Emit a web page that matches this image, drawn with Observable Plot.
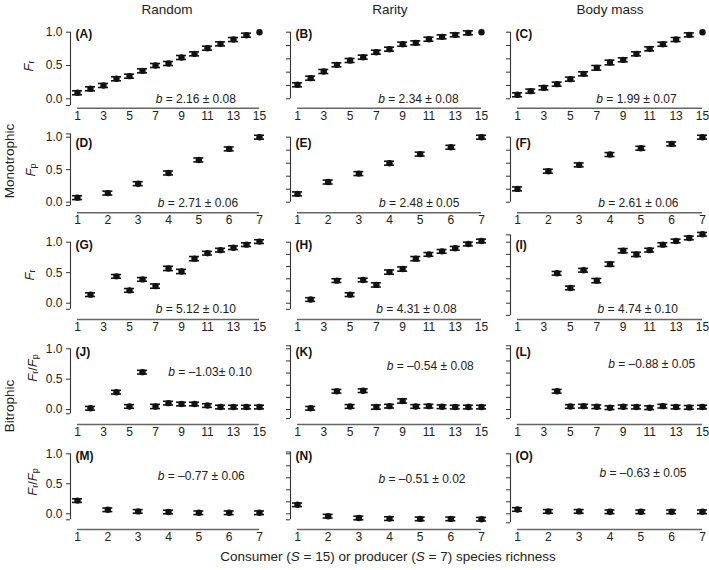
<!DOCTYPE html>
<html><head><meta charset="utf-8">
<script src="https://cdn.jsdelivr.net/npm/d3@7"></script>
<script src="https://cdn.jsdelivr.net/npm/@observablehq/plot@0.6"></script>
<style>
body{margin:0;background:#fff;}
#chart{position:relative;width:709px;height:570px;font-family:"Liberation Sans",Arial,sans-serif;color:#222;overflow:hidden;}
#overlay{position:absolute;left:0;top:0;pointer-events:none;}
</style></head><body><div id="chart"></div>
<script>
// ---------- data ----------
const colHeaders = ["Random", "Rarity", "Body mass"];
const groupLabels = ["Monotrophic", "Bitrophic"];
const xTitle = "Consumer (S = 15) or producer (S = 7) species richness";

const xConsumer = [1,2,3,4,5,6,7,8,9,10,11,12,13,14,15];
const xProducer = [1,2,3,4,5,6,7];
const xFrom2 = [2,4,5,6,7,8,9,10,11,12,13,14,15];
const xFrom4 = [4,5,6,7,8,9,10,11,12,13,14,15];

const consumerTicks = [1,3,5,7,9,11,13,15];
const producerTicks = [1,2,3,4,5,6,7];
const yLabelTicks = [0, 0.5, 1];
const yPlainTicks = [0, 0.2, 0.4, 0.6, 0.8, 1];

const letters = ["A","B","C","D","E","F","G","H","I","J","K","L","M","N","O"];

const valA = [0.09,0.15,0.20,0.30,0.34,0.42,0.50,0.53,0.62,0.675,0.76,0.825,0.89,0.955,1.0];
const valB = [0.21,0.31,0.41,0.51,0.575,0.625,0.70,0.745,0.82,0.84,0.895,0.93,0.96,0.99,1.0];
const valC = [0.06,0.115,0.165,0.22,0.295,0.375,0.465,0.545,0.585,0.675,0.75,0.82,0.89,0.96,1.0];
const valD = [0.07,0.14,0.285,0.45,0.65,0.82,1.0];
const valE = [0.128,0.31,0.44,0.60,0.74,0.845,1.0];
const valF = [0.205,0.477,0.574,0.733,0.83,0.897,1.0];
const valG = [0.14,0.44,0.21,0.39,0.28,0.57,0.52,0.73,0.82,0.87,0.91,0.96,1.01];
const valH = [0.06,0.37,0.14,0.38,0.30,0.51,0.56,0.73,0.80,0.85,0.90,0.97,1.02];
const valI = [0.49,0.25,0.54,0.37,0.64,0.86,0.80,0.87,0.96,1.02,1.07,1.13];
const valJ = [0.02,0.285,0.05,0.615,0.05,0.105,0.09,0.09,0.065,0.04,0.04,0.04,0.04];
const valK = [0.02,0.30,0.05,0.31,0.04,0.055,0.14,0.05,0.055,0.045,0.04,0.04,0.04];
const valL = [0.30,0.05,0.055,0.045,0.03,0.045,0.04,0.03,0.055,0.04,0.035,0.04];
const valM = [0.22,0.067,0.04,0.03,0.017,0.017,0.017];
const valN = [0.15,-0.04,-0.07,-0.08,-0.085,-0.085,-0.09];
const valO = [0.072,0.04,0.04,0.033,0.033,0.033,0.033];

const errA = [0.03,0.03,0.03,0.03,0.03,0.03,0.03,0.03,0.03,0.03,0.03,0.03,0.03,0.03,0];
const errB = [0.03,0.03,0.03,0.03,0.03,0.03,0.03,0.03,0.03,0.03,0.03,0.03,0.03,0.03,0];
const errC = [0.03,0.03,0.03,0.03,0.03,0.03,0.035,0.035,0.03,0.03,0.03,0.03,0.03,0.03,0];
const errD = [0.03,0.03,0.03,0.03,0.03,0.03,0.03];
const errE = [0.03,0.03,0.03,0.03,0.03,0.03,0.03];
const errF = [0.03,0.03,0.03,0.03,0.03,0.03,0.03];
const errG = [0.03,0.03,0.03,0.03,0.035,0.035,0.035,0.035,0.03,0.03,0.03,0.03,0.03];
const errH = [0.03,0.03,0.03,0.03,0.035,0.035,0.035,0.035,0.03,0.03,0.03,0.03,0.03];
const errI = [0.03,0.03,0.03,0.035,0.035,0.035,0.035,0.03,0.03,0.03,0.03,0.03];
const errJ = [0.03,0.03,0.03,0.03,0.035,0.03,0.03,0.03,0.03,0.03,0.03,0.03,0.03];
const errK = [0.03,0.03,0.03,0.03,0.035,0.03,0.035,0.03,0.03,0.03,0.03,0.03,0.03];
const errL = [0.03,0.03,0.03,0.03,0.03,0.03,0.03,0.03,0.03,0.03,0.03,0.03];
const errM = [0.03,0.03,0.03,0.03,0.03,0.03,0.03];
const errN = [0.03,0.03,0.03,0.03,0.03,0.03,0.03];
const errO = [0.03,0.03,0.03,0.03,0.03,0.03,0.03];

const stats = [
  "b = 2.16 ± 0.08", "b = 2.34 ± 0.08", "b = 1.99 ± 0.07",
  "b = 2.71 ± 0.06", "b = 2.48 ± 0.05", "b = 2.61 ± 0.06",
  "b = 5.12 ± 0.10", "b = 4.31 ± 0.08", "b = 4.74 ± 0.10",
  "b = \u20131.03\u00b1 0.10", "b = \u20130.54 ± 0.08", "b = \u20130.88 ± 0.05",
  "b = \u20130.77 ± 0.06", "b = \u20130.51 ± 0.02", "b = \u20130.63 ± 0.05"
];

// ---------- layout (positions / styles) ----------
const rows = [
  {top: 18,  bottom: 128, p0: 98.3,  s: 66.6, line: 107.7, letterY: 0.965},
  {top: 128, bottom: 228, p0: 201.7, s: 65,   line: 212.3, letterY: 0.91},
  {top: 228, bottom: 340, p0: 302.7, s: 61,   line: 319,   letterY: 0.95},
  {top: 340, bottom: 446, p0: 409,   s: 60.7, line: 424,   letterY: 0.94},
  {top: 446, bottom: 548, p0: 513.3, s: 60,   line: 529,   letterY: 0.96}
];
const cols = [
  {L: 0,   W: 268, X1: 77,  X2: 259},
  {L: 268, W: 220, X1: 297, X2: 481},
  {L: 488, W: 221, X1: 517, X2: 702}
];
const vals = [valA,valB,valC,valD,valE,valF,valG,valH,valI,valJ,valK,valL,valM,valN,valO];
const errs = [errA,errB,errC,errD,errE,errF,errG,errH,errI,errJ,errK,errL,errM,errN,errO];
const xsets = [xConsumer,xConsumer,xConsumer,xProducer,xProducer,xProducer,xFrom2,xFrom2,xFrom4,xFrom2,xFrom2,xFrom4,xProducer,xProducer,xProducer];
const annotPos = [
  [10.1,0],[10.2,0],[10.0,0],
  [4.97,-0.02],[4.97,-0.02],[4.92,-0.02],
  [10.1,-0.1],[10.05,-0.1],[10.1,-0.1],
  [11.2,0.615],[11.1,0.71],[11.15,0.74],
  [5.08,0.63],[5.06,0.57],[5.07,0.68]
];
const bracket = [
  [-0.1,1],[0,1],[0,1],
  [-0.05,1.05],[0,1],[0,1],
  [-0.1,1],[-0.1,1],[-0.2,1.12],
  [-0.07,1],[-0.15,1.05],[-0.15,1.05],
  [-0.1,1],[-0.1,1.03],[-0.15,1]
];

const chart = document.getElementById("chart");
const font = '"Liberation Sans", Arial, sans-serif';

for (let i = 0; i < 15; i++) {
  const r = Math.floor(i / 3), c = i % 3;
  const R = rows[r], C = cols[c];
  const xs = xsets[i];
  const isProducer = (r === 1 || r === 4);
  const xmax = isProducer ? 7 : 15;
  const xticks = isProducer ? producerTicks : consumerTicks;
  const height = R.bottom - R.top;
  const yt = (R.p0 - R.top) / R.s;
  const yb = -(R.line - R.p0) / R.s;
  const capHalf = 5 * (xmax - 1) / (C.X2 - C.X1);
  const data = xs.map((x, j) => ({x, v: vals[i][j], e: errs[i][j]}));
  const eb = data.filter(d => d.e > 0);
  const [lo, hi] = bracket[i];
  const baseTicks = c === 0 ? yLabelTicks : yPlainTicks;
  const endTicks = [lo, hi].filter(t => !baseTicks.includes(t));
  const fmt = c === 0 ? d3.format(".1f") : () => "";

  const svg = Plot.plot({
    width: C.W,
    height,
    marginLeft: C.X1 - 7 - C.L,
    marginRight: C.L + C.W - C.X2,
    marginTop: 0,
    marginBottom: R.bottom - R.line,
    x: {domain: [1, xmax], insetLeft: 7},
    y: {domain: [yb, yt]},
    style: {fontFamily: font, fontSize: "12px", color: "#222", background: "transparent", overflow: "visible"},
    marks: [
      Plot.ruleY([{y: yb, x1: 1, x2: xmax}], {y: "y", x1: "x1", x2: "x2", stroke: "#666", strokeWidth: 1.4}),
      Plot.axisX(xticks, {anchor: "bottom", tickSize: 0, tickPadding: 3, label: null, fontSize: 12}),
      Plot.ruleX([{x: 1, y1: lo, y2: hi}], {x: "x", y1: "y1", y2: "y2", dx: -7, stroke: "#333", strokeWidth: 1.1}),
      Plot.axisY(baseTicks, {anchor: "left", tickSize: 4, tickPadding: 4, tickFormat: fmt, label: null, stroke: "#333", fontSize: 12}),
      Plot.axisY(endTicks, {anchor: "left", tickSize: 4, tickFormat: () => "", label: null, stroke: "#333"}),
      Plot.ruleX(eb, {x: "x", y1: d => d.v - d.e, y2: d => d.v + d.e, stroke: "#111", strokeWidth: 1.3}),
      Plot.ruleY(eb, {y: d => d.v - d.e, x1: d => d.x - capHalf, x2: d => d.x + capHalf, stroke: "#111", strokeWidth: 1.6}),
      Plot.ruleY(eb, {y: d => d.v + d.e, x1: d => d.x - capHalf, x2: d => d.x + capHalf, stroke: "#111", strokeWidth: 1.6}),
      Plot.dot(data, {x: "x", y: "v", r: 3.2, fill: "#111"}),
      Plot.text([{x: 1, y: R.letterY, t: "(" + letters[i] + ")"}], {x: "x", y: "y", text: "t", textAnchor: "start", dx: -2, fontWeight: "bold", fontSize: 12, fill: "#111"}),
      Plot.text([{x: annotPos[i][0], y: annotPos[i][1], t: stats[i]}], {x: "x", y: "y", text: "t", textAnchor: "middle", fontSize: 12, fill: "#222"})
    ]
  });
  svg.style.position = "absolute";
  svg.style.left = C.L + "px";
  svg.style.top = R.top + "px";
  // italicise the leading "b"
  svg.querySelectorAll("text").forEach(t => {
    const s = t.textContent;
    if (s.startsWith("b = ")) {
      while (t.firstChild) t.removeChild(t.firstChild);
      const ts = document.createElementNS("http://www.w3.org/2000/svg", "tspan");
      ts.setAttribute("font-style", "italic");
      ts.textContent = "b";
      t.appendChild(ts);
      t.appendChild(document.createTextNode(s.slice(1)));
    }
  });
  chart.appendChild(svg);
}

// ---------- overlay texts ----------
const sub = (l) => `<tspan dy="3" font-size="9">${l}</tspan>`;
const Fr = `<tspan font-style="italic">F</tspan>${sub("r")}`;
const Fp = `<tspan font-style="italic">F</tspan>${sub("p")}`;
const FrFp = `<tspan font-style="italic">F</tspan>${sub("r")}<tspan dy="-3">/</tspan><tspan font-style="italic">F</tspan>${sub("p")}`;
const yTitles = [[28, 66, Fr], [30, 170, Fp], [29, 275, Fr], [32, 368, FrFp], [32, 482, FrFp]];
const headerX = [167, 390, 610];
const xTitleHtml = xTitle.replace(/S =/g, '<tspan font-style="italic">S</tspan> =');
let o = `<svg id="overlay" width="709" height="570" font-family='${font}' fill="#222">`;
colHeaders.forEach((h, k) => { o += `<text x="${headerX[k]}" y="9" text-anchor="middle" dominant-baseline="central" font-size="13.5">${h}</text>`; });
o += `<text transform="translate(9,161) rotate(-90)" text-anchor="middle" dominant-baseline="central" font-size="13.5">${groupLabels[0]}</text>`;
o += `<text transform="translate(9,406) rotate(-90)" text-anchor="middle" dominant-baseline="central" font-size="13.5">${groupLabels[1]}</text>`;
yTitles.forEach(([x, y, t]) => { o += `<text transform="translate(${x},${y}) rotate(-90)" text-anchor="middle" dominant-baseline="central" font-size="13">${t}</text>`; });
o += `<text x="388" y="556" text-anchor="middle" dominant-baseline="central" font-size="13.5">${xTitleHtml}</text>`;
o += `</svg>`;
chart.insertAdjacentHTML("beforeend", o);
</script></body></html>
